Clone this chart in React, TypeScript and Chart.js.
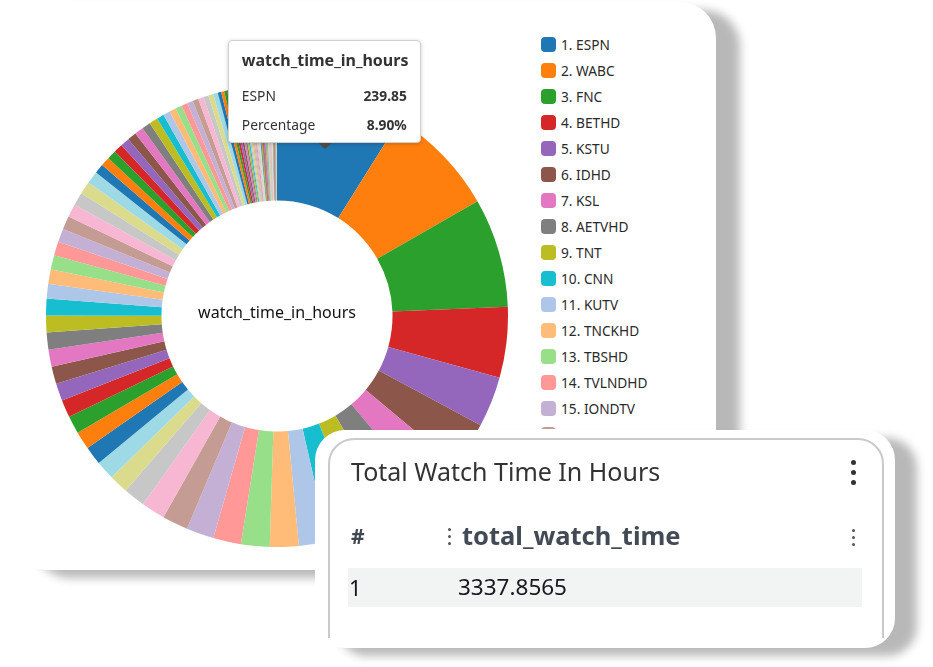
import React, { useEffect, useRef, useState } from 'react';
import { Chart, registerables } from 'chart.js';

Chart.register(...registerables);

// ---- data ----
const topChannels = ['ESPN', 'WABC', 'FNC', 'BETHD', 'KSTU', 'IDHD', 'KSL', 'AETVHD', 'TNT', 'CNN',
  'KUTV', 'TNCKHD', 'TBSHD', 'TVLNDHD', 'IONDTV', 'HGTVD', 'FOODHD', 'DSCHD', 'TLCHD', 'USAHD'];
const topHours = [239.85, 211.0, 205.9, 133.2, 95.1, 86.8, 75.6, 72.6, 68.1, 63.6,
  55.0, 54.3, 53.9, 52.4, 51.9, 48.7, 44.9, 41.2, 35.9, 35.6];

const midChannels = ['FXHD', 'AMCHD', 'HISTHD', 'NGCHD', 'CNBCHD', 'MSNBC', 'HLNHD', 'ESPN2', 'FS1HD', 'NFLHD',
  'GOLFHD', 'CMTVHD', 'MTVHD', 'VH1HD', 'COMHD', 'SYFYHD', 'BRAVOHD', 'EHD', 'OXYGNHD', 'LIFEHD',
  'LMN', 'HALLHD', 'HMMHD', 'WETV', 'OWNHD', 'TVONE', 'NICKHD', 'DISNHD', 'DXDHD',
  'TOONHD', 'NIKJR', 'FRFMHD', 'TRUTVHD', 'INSPHD', 'GACHD', 'REELZ', 'ANPLHD', 'TRAVHD', 'SCIHD', 'DIYHD',
  'CSPAN', 'FBN'];
const midHours = [34.6, 34.0, 33.5, 33.2, 32.9, 32.6, 32.3, 32.0, 31.7, 31.4,
  27.8, 27.2, 26.6, 26.1, 25.6, 25.2, 24.8, 24.4, 24.0, 23.6,
  17.6, 17.4, 17.2, 17.0, 16.9, 16.8, 16.6, 16.4, 16.1,
  13.6, 13.0, 12.6, 12.1, 11.6, 11.1, 10.7, 10.3, 9.8, 9.2, 8.8,
  6.4, 5.8];

const tailChannels = ['NEWSMX', 'OANHD', 'BLOOMHD', 'WEATHHD', 'KJZZ', 'KUCW', 'KBYU', 'KUEN', 'KUED', 'KPNZ',
  'KTMW', 'KSLDT2', 'KSTUDT2', 'UNIHD', 'TELEHD', 'GALAHD', 'ESPNU', 'SECHD', 'ACCHD', 'BIGTENHD',
  'NBATV', 'MLBHD', 'NHLNET', 'TENNIS', 'OLYHD', 'CBSSN', 'BEIN', 'FS2', 'OUTDRHD', 'SPTSMN',
  'MTV2', 'BETHER', 'CLEOTV', 'ASPIRE', 'UPTV', 'BYUTV', 'EWTN', 'TBN', 'DAYSTAR', 'QVC',
  'HSN', 'JTV', 'SHOPHQ', 'COZI', 'METV', 'ANTENNA', 'GRIT', 'LAFF', 'BOUNCE', 'COURT',
  'START', 'DABL', 'HEROES'];
const tailHours = [5.4, 5.0, 4.6, 4.2, 3.9, 3.6, 3.4, 3.2, 3.0, 2.9,
  2.8, 2.7, 2.6, 2.5, 2.4, 2.3, 2.2, 2.1, 2.0, 1.95,
  1.9, 1.85, 1.8, 1.75, 1.7, 1.65, 1.6, 1.55, 1.5, 1.45,
  1.4, 1.35, 1.3, 1.25, 1.2, 1.15, 1.1, 1.05, 1.0, 0.95,
  0.9, 0.85, 0.8, 0.75, 0.7, 0.65, 0.6, 0.55, 0.5, 0.45,
  0.4, 0.35, 0.3];

const measureName = 'watch_time_in_hours';
const cardTitle = 'Total Watch Time In Hours';
const tableColumn = 'total_watch_time';
const tableRowIndex = '1';
const tableRowValue = '3337.8565';

const palette = ['#1f77b4', '#ff7f0e', '#2ca02c', '#d62728', '#9467bd', '#8c564b', '#e377c2', '#7f7f7f', '#bcbd22', '#17becf',
  '#aec7e8', '#ffbb78', '#98df8a', '#ff9896', '#c5b0d5', '#c49c94', '#f7b6d2', '#c7c7c7', '#dbdb8d', '#9edae5'];

const channels = [...topChannels, ...midChannels, ...tailChannels];
const hours = [...topHours, ...midHours, ...tailHours];
const colors = channels.map((_, i) => palette[i % palette.length]);

const FONT = '"Noto Sans", "Open Sans", sans-serif';

// layout (page coords)
const PANEL_X = 10;
const PANEL_Y = 2;
const CANVAS_SIZE = 462;
const CANVAS_X = 46 - PANEL_X;
const CANVAS_Y = 85 - PANEL_Y;

const CARD_X = 315;
const CARD_Y = 430;

function Kebab({ x, y, size, gap, color }: { x: number; y: number; size: number; gap: number; color: string }) {
  return (
    <div style={{ position: 'absolute', left: x - size / 2, top: y - gap - size / 2 }}>
      {[0, 1, 2].map((i) => (
        <div key={i} style={{ width: size, height: size, borderRadius: '50%', background: color, marginBottom: i < 2 ? gap - size : 0 }} />
      ))}
    </div>
  );
}

export default function App() {
  const canvasRef = useRef<HTMLCanvasElement | null>(null);
  const [tip, setTip] = useState<{ x: number; y: number } | null>(null);

  useEffect(() => {
    document.body.style.margin = '0';
    const canvas = canvasRef.current;
    if (!canvas) return;
    const centerText = {
      id: 'centerText',
      afterDatasetsDraw(chart: any) {
        const arc = chart.getDatasetMeta(0).data[0];
        if (!arc) return;
        const ctx = chart.ctx;
        ctx.save();
        ctx.font = `16px ${FONT}`;
        ctx.fillStyle = '#111111';
        ctx.textAlign = 'center';
        ctx.textBaseline = 'middle';
        ctx.fillText(measureName, arc.x, arc.y - 3);
        ctx.restore();
      },
    };
    const chart = new Chart(canvas, {
      type: 'doughnut',
      data: {
        labels: channels,
        datasets: [{ label: measureName, data: hours, backgroundColor: colors, borderWidth: 0, hoverOffset: 0 }],
      },
      options: {
        animation: false,
        responsive: false,
        maintainAspectRatio: false,
        devicePixelRatio: 1,
        events: [],
        cutout: '50%',
        layout: { padding: 0 },
        plugins: { legend: { display: false }, tooltip: { enabled: false } },
      },
      plugins: [centerText],
    });
    const el: any = chart.getDatasetMeta(0).data[0];
    if (el) {
      const p = el.tooltipPosition(false);
      setTip({ x: CANVAS_X + p.x, y: CANVAS_Y + p.y });
    }
    return () => {
      chart.destroy();
    };
  }, []);

  const total = hours.reduce((a, b) => a + b, 0);
  const pct = ((hours[0] / total) * 100).toFixed(2) + '%';

  const TIP_W = 193;
  const TIP_H = 103;

  return (
    <div style={{ position: 'fixed', left: 0, top: 0, width: 933, height: 667, overflow: 'hidden', background: '#ffffff', fontFamily: FONT }}>
      {/* main chart panel */}
      <div style={{
        position: 'absolute', left: PANEL_X, top: PANEL_Y, width: 716 - PANEL_X, height: 570 - PANEL_Y,
        background: '#ffffff', borderRadius: 36, boxShadow: '24px 8px 10px rgba(0,0,0,0.28)', overflow: 'hidden',
      }}>
        <canvas ref={canvasRef} width={CANVAS_SIZE} height={CANVAS_SIZE}
          style={{ position: 'absolute', left: CANVAS_X, top: CANVAS_Y, width: CANVAS_SIZE, height: CANVAS_SIZE }} />
        {/* legend */}
        <div style={{ position: 'absolute', left: 541 - PANEL_X, top: 44 - 13 - PANEL_Y, width: 160, height: 398, overflow: 'hidden' }}>
          {channels.map((c, i) => (
            <div key={c + i} style={{ height: 26, display: 'flex', alignItems: 'center' }}>
              <div style={{ width: 15, height: 15, borderRadius: 4, background: colors[i], marginRight: 5, flex: 'none' }} />
              <span style={{ fontSize: 13.7, color: '#2a2a2a', whiteSpace: 'nowrap' }}>{`${i + 1}. ${c}`}</span>
            </div>
          ))}
        </div>
        {/* tooltip */}
        {tip && (
          <>
            <div style={{
              position: 'absolute', left: tip.x - 97, top: tip.y - 6 - TIP_H, width: TIP_W, height: TIP_H,
              boxSizing: 'border-box', background: '#ffffff', border: '1px solid #d0d0d0', borderRadius: 4,
              boxShadow: '0 1px 4px rgba(0,0,0,0.2)', color: '#333',
            }}>
              <div style={{ position: 'absolute', left: 13, top: 8, fontSize: 16, fontWeight: 700, lineHeight: '22px', whiteSpace: 'nowrap' }}>{measureName}</div>
              <div style={{ position: 'absolute', left: 13, right: 13, top: 45, display: 'flex', justifyContent: 'space-between', fontSize: 13.8, lineHeight: '20px' }}>
                <span>{channels[0]}</span><span style={{ fontWeight: 700 }}>{hours[0].toFixed(2)}</span>
              </div>
              <div style={{ position: 'absolute', left: 13, right: 13, top: 74, display: 'flex', justifyContent: 'space-between', fontSize: 13.8, lineHeight: '20px' }}>
                <span>Percentage</span><span style={{ fontWeight: 700 }}>{pct}</span>
              </div>
            </div>
            <div style={{
              position: 'absolute', left: tip.x - 7, top: tip.y - 6, width: 0, height: 0,
              borderLeft: '7px solid transparent', borderRight: '7px solid transparent', borderTop: '6px solid #4a4a4a',
            }} />
          </>
        )}
      </div>

      {/* total watch time card */}
      <div style={{
        position: 'absolute', left: CARD_X, top: CARD_Y, width: 580, height: 218, background: '#ffffff',
        borderRadius: 30, boxShadow: '22px 8px 10px rgba(0,0,0,0.28)',
      }}>
        <div style={{ position: 'absolute', left: 13, top: 8, width: 556, height: 200, overflow: 'hidden' }}>
          <div style={{ width: 556, height: 260, boxSizing: 'border-box', border: '2px solid #c9cacf', borderRadius: 26 }} />
        </div>
        <div style={{ position: 'absolute', left: 351 - CARD_X, top: 471 - 17 - CARD_Y, fontSize: 25, lineHeight: '34px', color: '#333', whiteSpace: 'nowrap' }}>{cardTitle}</div>
        <Kebab x={853 - CARD_X} y={472 - CARD_Y} size={5} gap={10} color="#333" />
        <div style={{ position: 'absolute', left: 351 - CARD_X, top: 536 - 16 - CARD_Y, fontSize: 21, lineHeight: '32px', fontWeight: 700, color: '#414750' }}>#</div>
        <Kebab x={449 - CARD_X} y={536 - CARD_Y} size={3} gap={7} color="#555" />
        <div style={{ position: 'absolute', left: 462 - CARD_X, top: 535 - 17 - CARD_Y, fontSize: 25.5, lineHeight: '34px', fontWeight: 700, color: '#414a55', whiteSpace: 'nowrap' }}>{tableColumn}</div>
        <Kebab x={853 - CARD_X} y={537 - CARD_Y} size={3} gap={7} color="#555" />
        <div style={{ position: 'absolute', left: 348 - CARD_X, top: 568 - CARD_Y, width: 514, height: 39, background: '#f2f3f3' }} />
        <div style={{ position: 'absolute', left: 349 - CARD_X, top: 587 - 15 - CARD_Y, fontSize: 22, lineHeight: '30px', color: '#16191f' }}>{tableRowIndex}</div>
        <div style={{ position: 'absolute', left: 458 - CARD_X, top: 587 - 15 - CARD_Y, fontSize: 22.5, lineHeight: '30px', color: '#16191f' }}>{tableRowValue}</div>
      </div>
    </div>
  );
}
